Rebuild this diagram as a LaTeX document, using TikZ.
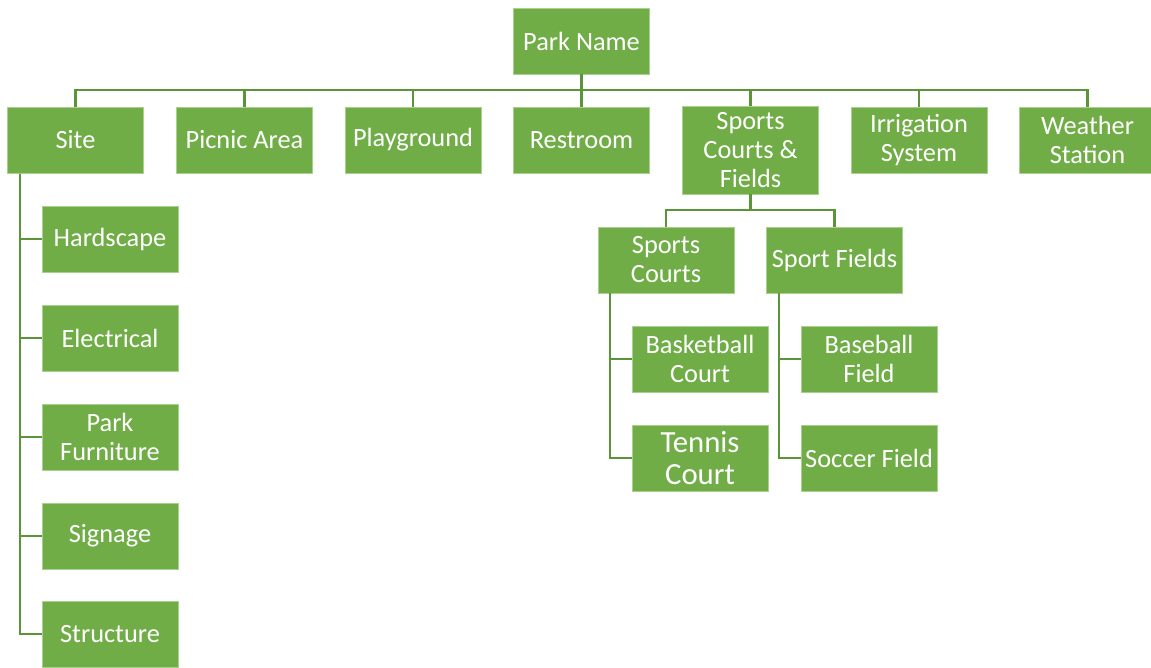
\documentclass[tikz,border=0pt]{standalone}
\usepackage{fontspec}
\setmainfont{Carlito}
\definecolor{boxgreen}{HTML}{70AD47}
\definecolor{linegreen}{HTML}{5B9539}
\definecolor{edgegreen}{HTML}{A9D18E}
\begin{document}
\begin{tikzpicture}[x=0.02cm,y=-0.02cm,
  every node/.style={font=\fontsize{15}{16.5}\selectfont},
  unit/.style={draw=edgegreen,line width=0.5pt,fill=boxgreen,text=white,minimum width=2.72cm,minimum height=1.32cm,inner sep=1pt,align=center},
  link/.style={draw=linegreen,line width=1.6pt}]
\useasboundingbox (0,0) rectangle (1151,667);
% top level
\node[unit] (park) at (581.5,41) {Park Name};
\node[unit] (site) at (75.5,140) {Site};
\node[unit] (picnic) at (244.5,140) {Picnic Area};
\node[unit] (play) at (413,140) {Playground};
\node[unit] (rest) at (581.5,140) {Restroom};
\node[unit,minimum height=1.76cm] (sports) at (750.5,150) {Sports\\Courts \&\\Fields};
\node[unit] (irrig) at (919,140) {Irrigation\\System};
\node[unit] (weather) at (1087.5,140) {Weather\\Station};
% site items
\node[unit] (hard) at (110,239) {Hardscape};
\node[unit] (elec) at (110,338) {Electrical};
\node[unit] (furn) at (110,437) {Park\\Furniture};
\node[unit] (sign) at (110,536) {Signage};
\node[unit] (struc) at (110,634) {Structure};
% sports items
\node[unit] (courts) at (666,260) {Sports\\Courts};
\node[unit] (fields) at (834.5,260) {Sport Fields};
\node[unit] (basket) at (700,359) {Basketball\\Court};
\node[unit,font=\fontsize{17.5}{18.5}\selectfont] (tennis) at (700,458) {Tennis\\Court};
\node[unit] (baseball) at (869,359) {Baseball\\Field};
\node[unit] (soccer) at (869,458) {Soccer Field};
% connectors
\coordinate (bus) at (581.5,90);
\draw[link] (park) -- (bus);
\foreach \target in {site,picnic,play,rest,sports,irrig,weather} \draw[link] (bus) -| (\target.north);
\coordinate (sitetrunk) at (20,173.5);
\foreach \target in {hard,elec,furn,sign,struc} \draw[link] (sitetrunk) |- (\target.west);
\coordinate (sfbus) at (750.5,210);
\draw[link] (sports) -- (sfbus);
\foreach \target in {courts,fields} \draw[link] (sfbus) -| (\target.north);
\coordinate (courtstrunk) at (610,293);
\foreach \target in {basket,tennis} \draw[link] (courtstrunk) |- (\target.west);
\coordinate (fieldstrunk) at (779,293);
\foreach \target in {baseball,soccer} \draw[link] (fieldstrunk) |- (\target.west);
\end{tikzpicture}
\end{document}
